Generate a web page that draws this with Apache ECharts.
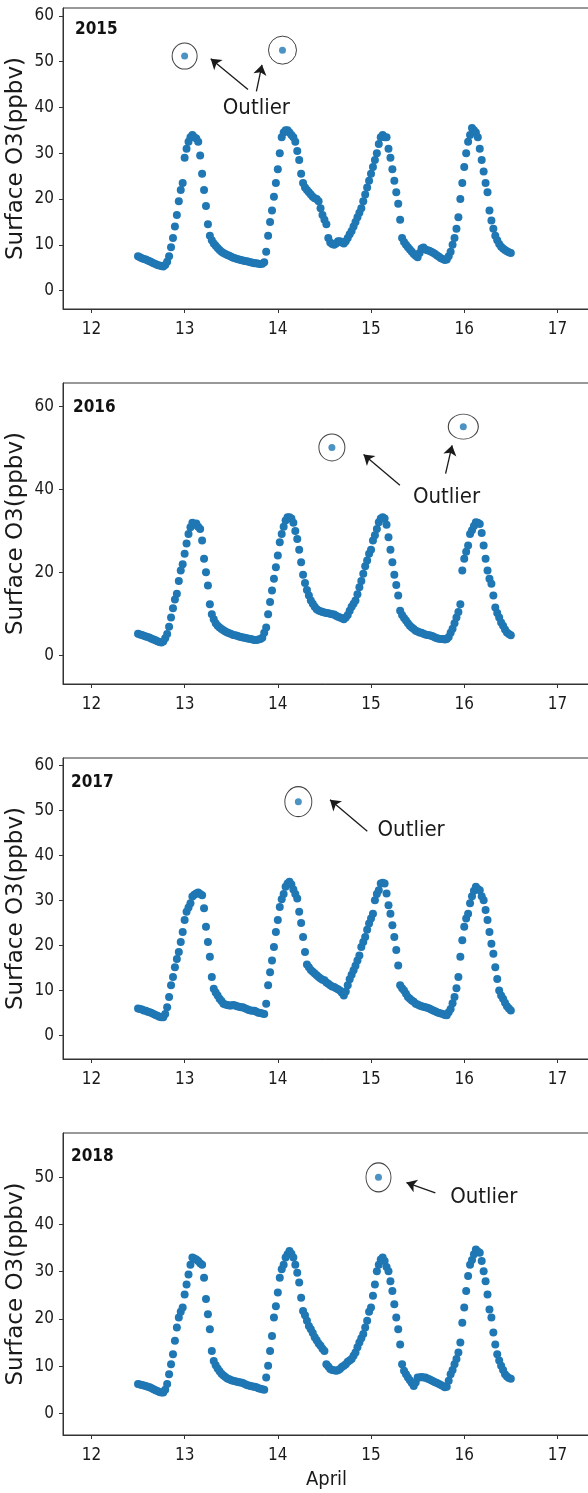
<!DOCTYPE html>
<html><head><meta charset="utf-8">
<script src="https://cdn.jsdelivr.net/npm/echarts@6/dist/echarts.min.js"></script>
<style>html,body{margin:0;padding:0;background:#fff}#c{width:588px;height:1493px}</style>
</head><body><div id="c"></div><script>
// ---------------- DATA ----------------
const years = ['2015', '2016', '2017', '2018'];
const startDay = 12.5;          // first sample: 12 April, 12:00
const stepDay = 1 / 48;         // 30-minute samples
const xTicks = [12, 13, 14, 15, 16, 17];
const xAxisTitle = 'April';
const yAxisTitle = 'Surface O3(ppbv)';
const annotationText = 'Outlier';

const o3_2015 = [
  7.5,7.3,7.1,6.9,6.8,6.6,6.4,6.2,6.0,5.8,5.6,5.5,5.4,5.3,5.6,6.3,7.5,9.5,11.5,14,16.5,19.5,22,23.5,
  29,31,32.5,33.5,34,33.5,33.2,32.5,29.5,25.5,22,18.5,14.5,12,11,10.3,9.8,9.3,8.9,8.5,8.2,8.0,7.8,7.6,
  7.4,7.2,7.1,6.9,6.8,6.7,6.6,6.5,6.4,6.3,6.2,6.1,6.0,6.0,5.9,5.8,5.9,6.2,8.5,12,15,17.5,20.5,23.5,
  26.5,30,33.5,34.5,35,35,34.5,34,33.5,32.5,30.5,28.5,25.5,23.5,22.5,22,21.5,21,20.5,20.2,20,19.5,18,16.5,
  15.5,14.5,11.5,10.5,10.2,10.0,10.3,10.8,10.8,10.5,10.3,10.8,11.5,12.3,13,14,15,16,17,18,19.5,21,22.5,24,
  25.5,27,28.5,30,32,33.5,34,33.5,33.5,31,29,26.5,24,21.5,19,15.5,11.5,10.6,10,9.5,9,8.5,8,7.6,
  7.3,8.2,9.2,9.4,9.0,8.8,8.7,8.5,8.3,8.0,7.7,7.4,7.1,6.9,6.7,6.8,7.5,8.5,10,11.5,13.5,16,20,23.5,
  27,30,32.5,34,35.5,35,34.5,33.5,31,28.5,26,23.5,21.5,17.5,15.3,13.5,12,11,10.2,9.6,9.2,8.9,8.6,8.4,
  8.2
];
const o3_2016 = [
  5.3,5.1,5.0,4.8,4.6,4.5,4.3,4.1,3.9,3.7,3.5,3.3,3.2,3.4,4.2,5.2,7.0,9.2,11.4,13.5,14.9,18,20.5,22.0,
  24.5,27,29.3,30.9,32,31.5,31.8,31,30.5,27.7,23.3,20.1,16.9,12.4,10,8.8,7.8,7.2,6.8,6.4,6.1,5.8,5.6,5.4,
  5.2,5.0,4.9,4.8,4.6,4.5,4.4,4.3,4.2,4.1,4.0,3.9,3.8,3.8,3.9,4.0,4.3,5.5,6.8,10,12.9,15.7,18.5,21.3,
  24.1,27.3,29.3,31,32.5,33.3,33.3,33,32,30,28.1,25.5,22.5,19.5,17.5,15.8,14.5,13.3,12.5,11.8,11.2,10.9,10.7,10.5,
  10.4,10.3,10.2,10.1,10.0,9.9,9.6,9.4,9.2,9.0,8.8,9.2,9.8,10.8,11.8,12.5,13.3,14.8,16.5,18,19.7,21.5,22.9,24.5,
  25.5,27.7,29,30.5,32.1,33,33.3,33,31.5,28.5,25.5,22.5,19.5,17,14.5,10.8,9.8,9.1,8.5,7.8,7.2,6.8,6.4,6.0,
  5.8,5.6,5.5,5.3,5.1,5.0,4.9,4.8,4.6,4.4,4.2,4.1,4.0,4.0,3.9,4.0,4.5,5.5,6.5,7.8,9.2,10.5,12.4,20.5,
  23.3,25,26.5,29.3,30.2,31.2,32.1,32,31.7,29.5,26.5,23.3,20.5,18.5,17.3,14.5,11.6,10.3,9.2,8,7.2,6.3,5.6,5.2,
  4.9
];
const o3_2017 = [
  6.0,5.9,5.8,5.6,5.5,5.3,5.2,5.0,4.8,4.6,4.4,4.2,4.1,4.1,4.8,6.3,8.6,11.2,13,15.2,17,18.6,20.8,23,
  25.7,27.5,28.5,29.4,30.9,31.3,31.6,31.8,31.5,31.2,28.3,24.2,20.8,17.5,13,10.4,9.6,8.9,8.2,7.7,7.1,6.9,6.8,6.7,
  6.7,6.8,6.7,6.5,6.4,6.3,6.3,6.1,5.9,5.7,5.6,5.5,5.5,5.3,5.1,5.0,4.9,4.8,7.1,11.2,14.1,16.7,19.7,23,
  25.7,28.6,30.3,31.5,33.1,33.8,34.2,33.6,32.5,31.5,30.5,27.5,25,21.9,18.6,15.8,15.2,14.6,14.2,13.8,13.4,13,12.7,12.4,
  12.3,11.8,11.5,11.2,10.9,10.8,10.5,10.3,10,9.5,8.9,9.8,11.2,12.5,13.5,14.5,15.5,16.7,17.8,19.7,20.8,21.9,23.5,24.9,
  26,27.1,30.1,31.5,32.3,33.8,34,33.8,31.6,29,27.1,24.5,21.9,19,15.6,11.2,10.5,10,9.3,8.6,8.2,7.8,7.5,7.1,
  6.9,6.7,6.5,6.4,6.3,6.2,6.0,5.8,5.6,5.4,5.2,5.0,4.9,4.8,4.6,4.5,5.2,5.9,7.2,8.6,10.5,13,17.5,21.2,
  24.2,26,27.1,29.4,31,32.2,33.1,32.6,32.3,31,30.1,27.9,25.7,23,20.4,18.2,15.2,12.6,10,8.9,8.2,7.3,6.5,6.0,
  5.6
];
const o3_2018 = [
  6.2,6.1,6.0,5.9,5.8,5.6,5.5,5.3,5.1,4.9,4.7,4.5,4.4,4.4,5.0,6.2,8.3,10.4,12.5,15.4,18.2,20.3,21.5,22.4,
  25.2,27.3,29.4,31.5,33,32.8,32.6,32.3,31.8,31.5,28.7,24.2,21,17.8,13.2,11.1,10.2,9.5,8.9,8.4,8.0,7.7,7.4,7.2,
  7.0,6.9,6.8,6.7,6.6,6.5,6.4,6.2,6.0,5.9,5.8,5.7,5.6,5.5,5.3,5.2,5.1,5.0,7.6,10.1,13.2,16.4,20.3,22.7,
  25.6,28.7,30.5,31.5,33,33.7,34.4,33.8,33,31.5,29.8,27.7,24.5,21.7,20.8,19.6,18.5,17.8,17,16.1,15.5,14.8,14.3,13.7,
  13.2,10.4,9.9,9.4,9.2,9.1,9.0,9.1,9.4,9.8,10.1,10.4,10.9,11.2,11.5,12.2,12.9,14,15,15.9,16.8,18.2,19.6,21.5,
  22.4,24.9,27.3,30.1,31.5,32.6,33,32.3,31,30.1,28,25.9,23.1,20.3,17.8,14.6,10.4,9,8.3,7.6,7,6.4,5.8,6.5,
  7.6,7.6,7.7,7.6,7.6,7.4,7.2,7.0,6.8,6.6,6.4,6.2,6.0,5.8,5.5,5.6,6.9,8.3,9.2,10.4,11.5,12.9,15,19.2,
  22.4,25.9,29.1,31.5,32.5,33.7,34.7,34.3,34,32.3,30.1,28,25.2,22,20.3,17.1,14.6,12.5,11.2,10.1,9.2,8.3,7.8,7.5,
  7.3
];

// outlier points [day of April, ppbv]
const outliers_2015 = [[13.0, 51.2], [14.05, 52.5]];
const outliers_2016 = [[14.58, 50.1], [15.99, 55.1]];
const outliers_2017 = [[14.22, 52.0]];
const outliers_2018 = [[15.08, 50.0]];

const yTicks_2015 = [0, 10, 20, 30, 40, 50, 60];
const yTicks_2016 = [0, 20, 40, 60];
const yTicks_2017 = [0, 10, 20, 30, 40, 50, 60];
const yTicks_2018 = [0, 10, 20, 30, 40, 50];

// ---------------- LAYOUT / STYLE ----------------
const series_o3 = [o3_2015, o3_2016, o3_2017, o3_2018];
const series_out = [outliers_2015, outliers_2016, outliers_2017, outliers_2018];
const series_yt = [yTicks_2015, yTicks_2016, yTicks_2017, yTicks_2018];

const panels = [
  { top: 8,    height: 301, ymin: -4.0, ymax: 61.7, yearLeft: 75, yearTop: 21,
    circle: [[25, 26], [28, 28]],
    text: [13.77, 39.9],
    arrows: [[[13.68, 43.9], [13.28, 50.6]], [[13.77, 43.5], [13.83, 49.3]]] },
  { top: 383,  height: 301, ymin: -6.8, ymax: 65.6, yearLeft: 73, yearTop: 399,
    circle: [[26, 27], [30, 25]],
    text: [15.81, 38.2],
    arrows: [[[15.31, 41.0], [14.92, 48.4]], [[15.80, 43.8], [15.87, 50.6]]] },
  { top: 758,  height: 301, ymin: -5.2, ymax: 61.7, yearLeft: 71, yearTop: 774,
    circle: [[27, 30]],
    text: [15.43, 45.7],
    arrows: [[[14.96, 45.4], [14.56, 52.4]]] },
  { top: 1133, height: 302, ymin: -4.6, ymax: 59.4, yearLeft: 71, yearTop: 1148,
    circle: [[25, 29]],
    text: [16.21, 45.8],
    arrows: [[[15.69, 46.7], [15.38, 48.9]]] }
];
const GRID_LEFT = 63, GRID_W = 527, XMIN = 11.695, XMAX = XMIN + GRID_W / 93.2;
const BLUE = '#1f77b4', INK = '#1a1a1a', AXIS = '#333';
const CONDENSED = "'DejaVu Sans Condensed', 'DejaVu Sans', sans-serif";

const option = { animation: false, backgroundColor: '#fff', title: [], grid: [], xAxis: [], yAxis: [], series: [] };

panels.forEach((p, i) => {
  option.grid.push({ left: GRID_LEFT, top: p.top, width: GRID_W, height: p.height, show: true,
    borderColor: AXIS, borderWidth: 1, backgroundColor: '#fff', containLabel: false, outerBoundsMode: 'none' });
  option.title.push({ text: years[i], left: p.yearLeft, top: p.yearTop, padding: 0,
    textStyle: { fontFamily: CONDENSED, fontSize: 17, fontWeight: 'bold', color: '#111' } });
  const last = i === panels.length - 1;
  option.xAxis.push({ gridIndex: i, type: 'value', min: XMIN, max: XMAX, position: 'bottom',
    name: last ? xAxisTitle : '', nameLocation: 'middle', nameGap: 35,
    nameTextStyle: { fontFamily: CONDENSED, fontSize: 20, color: INK },
    axisLine: { show: true, onZero: false, lineStyle: { color: AXIS, width: 1 } }, splitLine: { show: false },
    axisTick: { show: true, inside: false, length: 4, customValues: xTicks, lineStyle: { color: AXIS } },
    axisLabel: { customValues: xTicks, margin: 12, fontFamily: CONDENSED, fontSize: 17, color: INK } });
  option.yAxis.push({ gridIndex: i, type: 'value', min: p.ymin, max: p.ymax, position: 'left',
    name: yAxisTitle, nameLocation: 'middle', nameGap: 35, nameMoveOverlap: false,
    nameTextStyle: { fontFamily: "'DejaVu Sans', sans-serif", fontSize: 23, color: INK },
    axisLine: { show: true, onZero: false, lineStyle: { color: AXIS, width: 1 } }, splitLine: { show: false },
    axisTick: { show: true, inside: false, length: 4, customValues: series_yt[i], lineStyle: { color: AXIS } },
    axisLabel: { customValues: series_yt[i], margin: 9, fontFamily: CONDENSED, fontSize: 17, color: INK } });

  option.series.push({ type: 'scatter', xAxisIndex: i, yAxisIndex: i, symbol: 'circle', symbolSize: 8,
    itemStyle: { color: BLUE, opacity: 1 }, silent: true,
    data: series_o3[i].map((v, k) => [startDay + k * stepDay, v]) });

  option.series.push({ type: 'scatter', xAxisIndex: i, yAxisIndex: i, symbol: 'circle', symbolSize: 7,
    itemStyle: { color: BLUE }, silent: true, data: series_out[i],
    markLine: { silent: true, symbol: ['none', 'arrow'], symbolSize: 10, animation: false,
      lineStyle: { color: INK, width: 1.3, type: 'solid' }, label: { show: false }, emphasis: { disabled: true },
      data: p.arrows.map(a => [{ coord: a[0] }, { coord: a[1] }]) },
    markPoint: { silent: true, symbol: 'circle', symbolSize: 1, itemStyle: { color: 'rgba(0,0,0,0)' },
      label: { show: true, position: 'inside', formatter: annotationText, fontFamily: CONDENSED, fontSize: 22, color: INK },
      data: [{ coord: p.text }] } });

  option.series.push({ type: 'scatter', xAxisIndex: i, yAxisIndex: i, symbol: 'circle', silent: true,
    symbolSize: (val, params) => p.circle[params.dataIndex],
    itemStyle: { color: 'rgba(0,0,0,0)', borderColor: '#111', borderWidth: 1 }, data: series_out[i] });
});

const chart = echarts.init(document.getElementById('c'), null, { renderer: 'canvas' });
chart.setOption(option);
</script></body></html>
